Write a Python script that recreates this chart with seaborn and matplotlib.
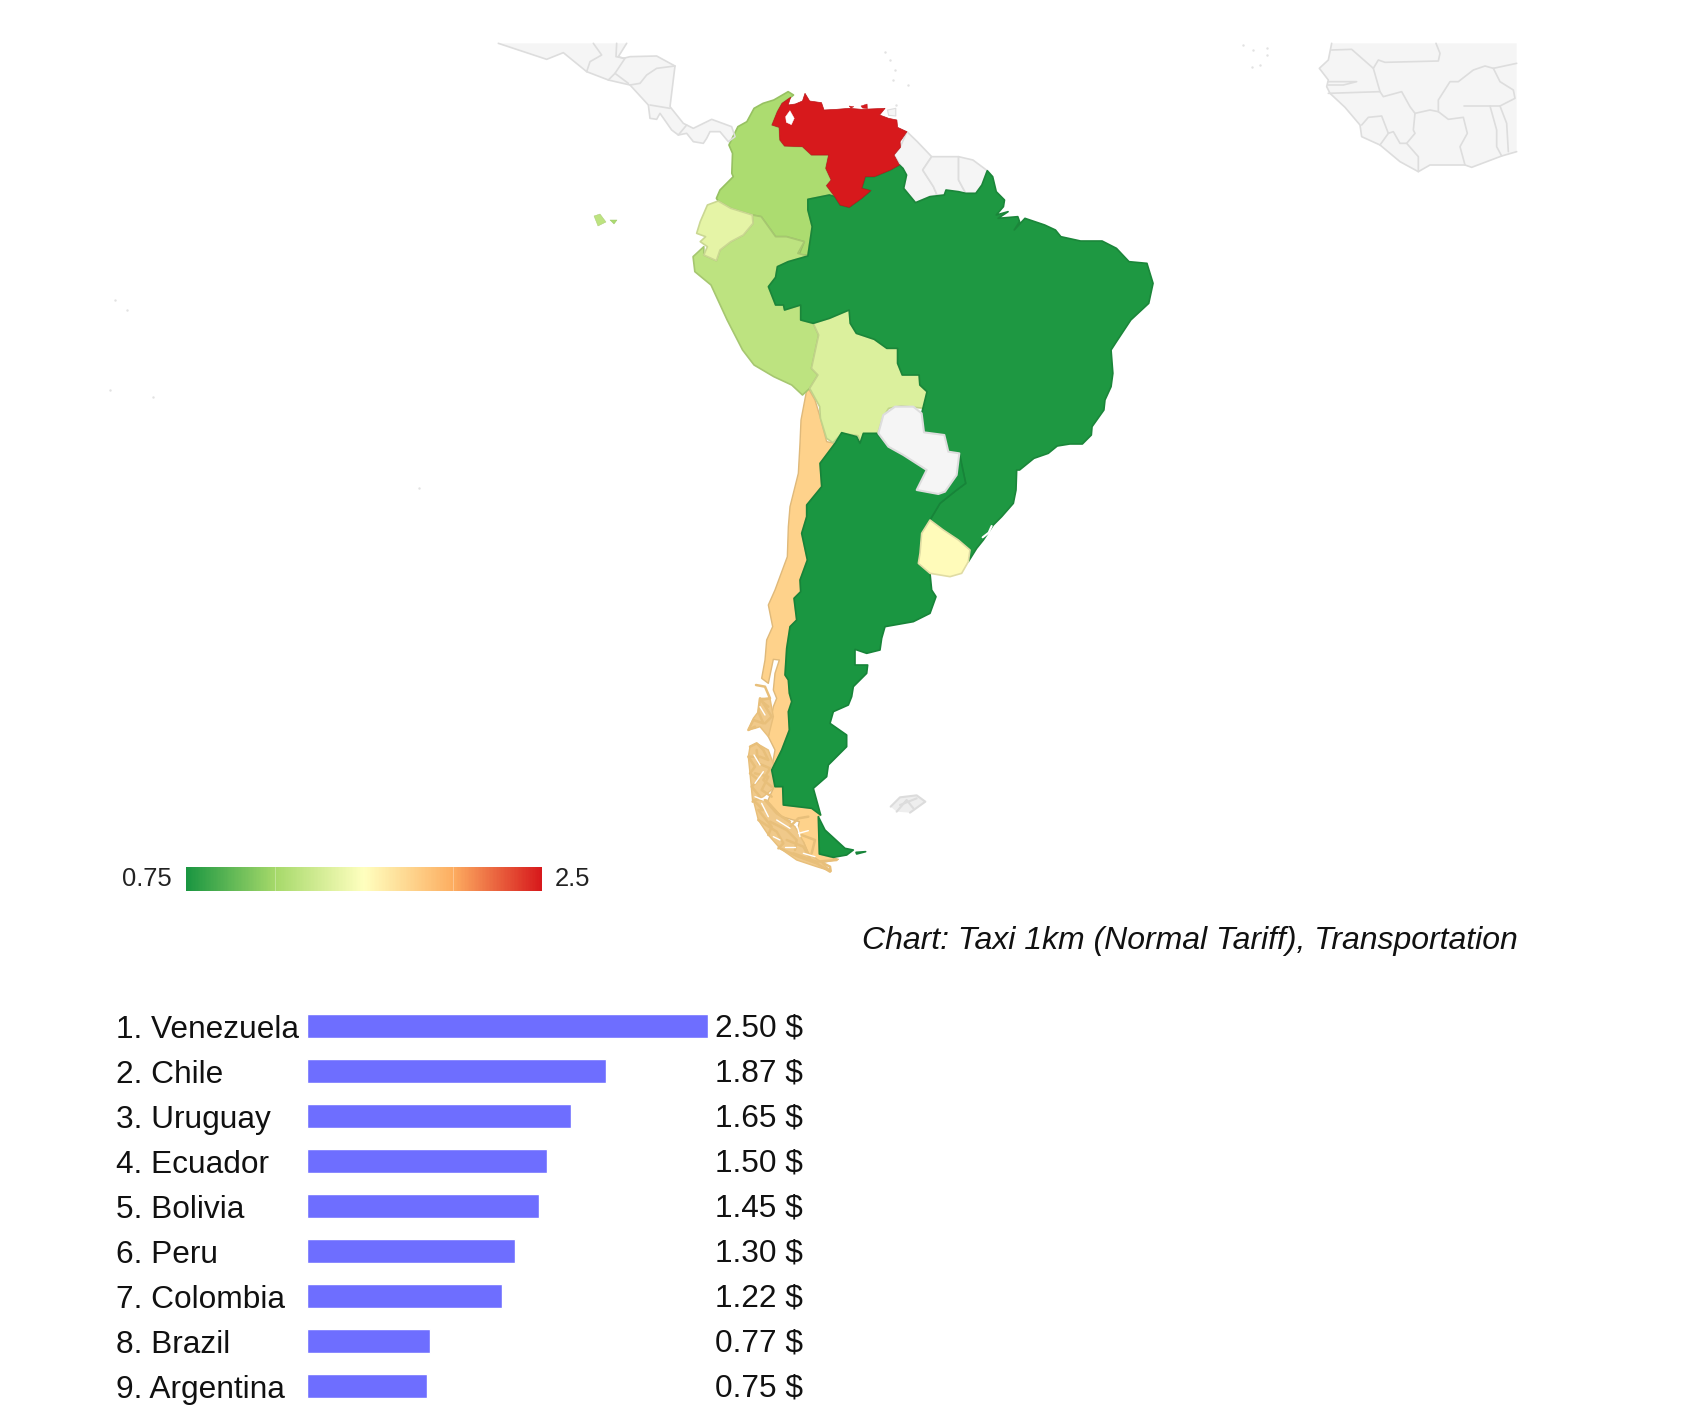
import numpy as np
import pandas as pd
import matplotlib.pyplot as plt
import seaborn as sns
from matplotlib.colors import LinearSegmentedColormap, Normalize, to_rgb

# Data
countries = ['Venezuela', 'Chile', 'Uruguay', 'Ecuador', 'Bolivia', 'Peru', 'Colombia', 'Brazil', 'Argentina']
taxi_prices = [2.50, 1.87, 1.65, 1.50, 1.45, 1.30, 1.22, 0.77, 0.75]
scale_min = 0.75
scale_max = 2.5
scale_colors = ['#1a9641', '#a6d96a', '#ffffbf', '#fdae61', '#d7191c']
chart_title = 'Chart: Taxi 1km (Normal Tariff), Transportation'

# Map outlines, north part (a), south part (b), Patagonia (e)
venezuela_a = [(340,255),(355,215),(368,190),(392,172),(385,195),(405,192),(425,183),(432,160),(445,183),(478,188),(485,210),(520,208),(555,205),(590,208),(655,205),(640,225),(665,235),(688,240),(690,262),(716,275),(697,305),(698,322),(680,345),(695,375),(670,390),(625,410),(600,410),(590,445),(615,452),(590,475),(555,502),(530,495),(515,470),(492,437),(505,420),(490,385),(498,345),(450,345),(425,320),(375,318),(362,300),(360,262)]
margarita_a = [(555,198),(568,200),(560,205)]
coche_a = [(588,198),(605,192),(606,206),(592,204)]
maracaibo_a = [(390,212),(402,235),(394,254),(380,247),(378,230)]
colombia_a = [(385,155),(400,165),(392,172),(368,190),(355,215),(340,255),(360,262),(362,300),(375,318),(425,320),(450,345),(498,345),(490,385),(505,420),(492,437),(515,470),(500,465),(440,478),(440,510),(452,560),(440,645),(415,645),(430,605),(380,590),(350,590),(310,530),(285,525),(225,505),(190,483),(185,475),(195,450),(232,410),(228,400),(230,340),(220,315),(245,260),(270,245),(290,205),(315,190),(345,180)]
ecuador_a = [(190,483),(225,505),(285,525),(287,550),(260,585),(225,605),(195,630),(185,662),(150,645),(160,620),(140,605),(155,590),(130,580),(140,545),(160,495)]
peru_a = [(285,525),(310,530),(350,590),(380,590),(430,605),(412,640),(440,648),(385,665),(355,680),(350,712),(330,740),(350,795),(372,795),(375,810),(420,795),(420,840),(455,850),(470,885),(455,960),(450,985),(468,1005),(445,1045),(425,1065),(395,1035),(345,1010),(290,975),(258,930),(215,840),(170,735),(125,695),(120,650),(150,620),(150,645),(185,662),(195,630),(225,605),(260,585),(287,550)]
bolivia_a = [(455,850),(500,835),(555,810),(558,850),(575,880),(625,898),(660,925),(690,925),(690,970),(703,1005),(750,1005),(752,1035),(772,1055),(765,1105),(700,1098),(665,1105),(648,1135),(635,1180),(605,1185),(590,1212),(580,1187),(535,1180),(510,1208),(492,1195),(475,1135),(473,1100),(445,1045),(468,1005),(450,985),(455,960),(470,885)]
brazil_north_a = [(440,510),(440,478),(500,465),(515,470),(530,495),(555,502),(590,475),(615,452),(590,445),(600,410),(625,410),(670,390),(695,375),(705,385),(715,405),(707,445),(740,488),(780,470),(820,465),(825,450),(860,455),(880,460),(908,460),(925,435),(940,392),(955,410),(965,455),(988,480),(985,500),(965,525),(998,515),(970,535),(1025,530),(1030,545),(1015,570),(1045,535),(1100,555),(1130,570),(1145,590),(1200,603),(1260,603),(1300,625),(1335,665),(1385,670),(1402,730),(1390,790),(1340,840),(1300,905),(1285,930),(1290,1000),(1285,1040),(1268,1080),(1265,1110),(1232,1160),(1230,1185),(1205,1212),(1170,1212),(1135,1218),(1110,1240),(1070,1255),(1030,1290)]
brazil_south_b = [(950,210),(948,270),(940,310),(905,350),(880,375),(850,420),(830,445),(805,485),(810,450),(775,420),(730,390),(690,360),(720,310),(770,270),(797,250),(778,160),(745,155),(733,105),(672,97),(665,40)]
brazil_west_a = [(772,1055),(752,1035),(750,1005),(703,1005),(690,970),(690,925),(660,925),(625,898),(575,880),(558,850),(555,810),(500,835),(455,850),(420,840),(420,795),(375,810),(372,795),(350,795),(330,740),(350,712),(355,680),(385,665),(440,648),(452,560)]
lagoon_b = [(875,378),(866,398),(848,412)]
guyana_a = [(716,275),(745,305),(785,350),(760,390),(790,440),(800,465),(780,470),(740,488),(707,445),(715,405),(680,345),(697,322)]
suriname_a = [(785,350),(860,350),(860,420),(870,440),(880,460),(820,465),(800,465),(790,440),(760,390)]
french_guiana_a = [(860,350),(900,360),(940,392),(925,435),(908,460),(880,460),(870,440),(860,420)]
trinidad_a = [(662,210),(685,205),(685,228),(665,226)]
paraguay_b = [(535,100),(550,45),(585,20),(640,20),(665,40),(672,97),(733,105),(745,155),(778,160),(770,225),(735,275),(715,282),(650,270),(680,210),(610,165),(565,140)]
uruguay_b = [(690,360),(730,390),(775,420),(810,450),(805,485),(785,520),(750,530),(690,520),(655,490),(660,460),(665,400)]
argentina_b = [(405,130),(425,98),(470,110),(480,130),(490,100),(530,100),(565,140),(610,165),(680,210),(650,270),(715,282),(735,275),(770,225),(778,160),(797,250),(770,270),(720,310),(690,360),(665,400),(660,460),(655,490),(690,520),(695,570),(708,590),(690,640),(640,665),(555,680),(545,715),(540,750),(500,760),(465,748),(465,795),(503,795),(500,820),(460,860),(455,890),(445,915),(400,935),(390,970),(440,1005),(440,1040),(385,1095),(380,1130),(340,1165),(362,1245),(335,1225),(250,1215),(248,1160),(225,1160),(215,1110),(245,1050),(268,990),(265,935),(275,905),(268,880),(265,840),(255,825),(260,745),(270,680),(290,660),(282,595),(302,575),(300,540),(322,480),(305,400),(320,350),(320,315),(365,260),(360,190)]
fuego_b = [(355,1250),(375,1290),(435,1345),(460,1350),(440,1365),(400,1372),(358,1362)]
staten_b = [(468,1357),(497,1355),(470,1362)]
chile_east_b = [(322,-40),(345,0),(360,50),(380,125),(405,130),(360,190),(365,260),(320,315),(320,350),(305,400),(322,480),(300,540),(302,575),(282,595),(290,660),(270,680),(260,745),(255,825),(265,840),(268,880),(282,905),(265,935),(268,990),(245,1050),(215,1110),(225,1160),(248,1160),(250,1215),(335,1225),(362,1245),(355,1250),(358,1362),(415,1378)]
chile_south_e = [(245,668),(205,640),(190,605),(165,600),(178,545),(125,530),(80,490),(100,445),(95,385),(105,330),(85,290),(95,225),(100,200),(110,175),(100,150),(105,100),(118,60),(100,58),(85,130),(65,115),(75,60),(80,0)]
chile_west_b = [(218,680),(205,615),(225,570),(262,470),(265,380),(270,320),(295,220),(300,130),(303,60)]
island_blobs_e = [[(60,175),(90,175),(100,230),(85,290),(60,260),(45,265),(25,270),(40,235),(55,215)],[(30,320),(50,310),(85,330),(105,385),(100,445),(70,470),(38,485),(30,400),(25,350)],[(40,480),(80,480),(125,530),(165,560),(190,605),(205,640),(245,668),(272,693),(230,680),(170,660),(120,625),(85,585),(55,540)]]
chile_islands_e = [[(48,135),(75,140),(90,175),(60,180),(85,200)],[(60,175),(55,215),(70,250),(40,240),(25,270),(45,260)],[(70,190),(95,230),(75,250)],[(30,320),(50,310),(70,330),(85,360),(60,350),(25,350),(45,380),(30,400),(55,420),(35,440),(60,470),(38,485)],[(50,330),(55,370),(90,385),(70,420),(95,440)],[(45,400),(85,410),(65,450),(95,470)],[(40,480),(70,510),(55,510),(95,560),(85,585)],[(75,480),(110,520),(150,545)],[(55,540),(110,575),(130,610),(115,625)],[(90,545),(140,570),(170,600),(165,630)],[(120,625),(175,650),(230,670),(270,695)],[(140,600),(190,620),(210,655)],[(160,640),(230,665),(290,660)],[(215,640),(225,600),(185,585)],[(150,560),(175,535),(205,530)],[(250,670),(270,680),(272,693)]]
fjord_gaps_e = [[(60,200),(75,225)],[(42,345),(60,375)],[(70,395),(45,430)],[(65,490),(85,530)],[(45,470),(70,480)],[(110,540),(150,565)],[(172,560),(180,590)],[(176,580),(205,572)],[(135,620),(165,620)],[(190,640),(225,650)],[(100,590),(120,600)]]
falklands_b = [(572,1220),(600,1192),(650,1186),(676,1205),(630,1238),(590,1235)]
falklands_lines_b = [[(572,1220),(600,1192),(650,1186),(676,1205),(630,1238)],[(590,1235),(620,1200),(640,1225)],[(600,1215),(650,1195)]]

# Central America and West Africa
central_america = [(25,40),(170,88),(220,68),(290,125),(355,150),(420,165),(475,225),(480,265),(500,268),(510,250),(545,300),(565,315),(590,310),(610,335),(640,340),(650,325),(660,305),(690,305),(715,335),(735,320),(725,290),(665,268),(610,295),(580,280),(540,230),(555,108),(500,78),(420,80),(400,85),(385,80),(410,40)]
central_borders = [[(310,40),(335,75),(300,95),(290,125)],[(380,40),(378,80),(405,85),(375,130),(415,160)],[(375,130),(355,150)],[(555,108),(500,115),(470,135),(450,160),(420,165)],[(480,225),(540,235)],[(590,285),(565,315)]]
africa_coast = [(860,365),(815,378),(725,412),(705,405),(600,405),(565,425),(510,395),(450,345),(395,320),(390,285),(345,232),(300,190),(290,170),(295,150),(268,115),(295,90),(305,40)]
africa_top = [(860,40)]
africa_borders = [[(305,60),(365,58),(430,115),(450,185),(295,190)],[(430,115),(445,90),(465,97),(625,93),(630,70),(618,40)],[(450,185),(460,200),(515,185),(540,230),(555,250),(550,300),(555,310),(530,340),(510,340),(490,305),(475,310),(450,345)],[(395,285),(415,262),(455,258),(475,310)],[(555,250),(600,240),(625,245),(655,268),(700,262),(712,310),(690,350),(705,405)],[(625,245),(625,210),(660,155),(685,155),(730,120),(765,108),(790,115),(860,100)],[(790,115),(810,155),(850,180),(855,205),(810,228),(702,228)],[(780,228),(800,300),(800,350),(815,378)],[(810,228),(830,280),(835,365)],[(530,340),(565,380),(565,425)],[(295,155),(380,155),(340,165),(295,165)]]
cape_verde = [(40,45),(70,60),(110,55),(112,74),(90,105),(65,110)]
# small islands, full picture pixels
caribbean_dots = [(885,52),(890,60),(895,70),(893,80),(908,85),(896,105)]
pacific_dots = [(115,300),(127,310),(110,390),(153,397),(419,488)]
galapagos = [(594,216),(600,214),(606,222),(598,226)]
galapagos_2 = [(610,220),(617,220),(614,224)]

def crop_a(pts):
    return [(650 + x / 2.787, 40 + y / 3) for x, y in pts]

def crop_b(pts):
    return [(700 + x / 3, 400 + y / 3) for x, y in pts]

def crop_c(pts):
    return [(490 + x / 3, 30 + y / 3) for x, y in pts]

def crop_d(pts):
    return [(1230 + x / 3, 30 + y / 3) for x, y in pts]

def crop_e(pts):
    return [(740 + x / 3, 640 + y / 3) for x, y in pts]

sns.set_theme(style='white')
plt.rcParams['font.family'] = ['Liberation Sans', 'DejaVu Sans']

df = pd.DataFrame({'country': countries, 'price': taxi_prices})
df['label'] = [f'{i + 1}. {c}' for i, c in enumerate(df['country'])]
prices = dict(zip(countries, taxi_prices))

cmap = LinearSegmentedColormap.from_list('taxi', scale_colors)
norm = Normalize(scale_min, scale_max)

fig = plt.figure(figsize=(17.05, 14.14), dpi=100, facecolor='white')

# Map
ax_map = fig.add_axes([0, 0, 1, 1])
ax_map.set_xlim(0, 1705)
ax_map.set_ylim(1414, 0)
ax_map.axis('off')

def draw_shape(pts, fill, edge, lw=1.2):
    xs, ys = zip(*pts)
    ax_map.fill(xs, ys, facecolor=fill, edgecolor=edge, linewidth=lw, joinstyle='round')

def draw_lines(lines, color, lw):
    for line in lines:
        xs, ys = zip(*line)
        ax_map.plot(xs, ys, color=color, linewidth=lw, solid_joinstyle='round')

def draw_country(name, pts, lw=1.2):
    fill = cmap(norm(prices[name]))
    edge = tuple(0.88 * c for c in to_rgb(fill))
    draw_shape(pts, fill, edge, lw)

grey_fill = '#f5f5f5'
grey_edge = '#dddddd'
draw_shape(crop_c(central_america), grey_fill, 'none', 0)
draw_lines([crop_c(central_america)] + [crop_c(b) for b in central_borders], grey_edge, 1.2)
draw_shape(crop_d(africa_coast + africa_top), grey_fill, 'none', 0)
draw_lines([crop_d(africa_coast)] + [crop_d(b) for b in africa_borders], grey_edge, 1.2)
for p in crop_d(cape_verde) + caribbean_dots + pacific_dots:
    ax_map.scatter(*p, s=3, color='#e2e2e2', linewidths=0)
draw_shape(crop_a(guyana_a), grey_fill, grey_edge)
draw_shape(crop_a(suriname_a), grey_fill, grey_edge)
draw_shape(crop_a(french_guiana_a), grey_fill, grey_edge)
draw_shape(crop_a(trinidad_a), grey_fill, grey_edge, 0.8)
draw_shape(crop_b(falklands_b), '#eeeeee', 'none', 0)
draw_lines([crop_b(f) for f in falklands_lines_b], '#dcdcdc', 1.5)

draw_country('Chile', crop_b(chile_east_b) + crop_e(chile_south_e) + crop_b(chile_west_b), 1.0)
for blob in island_blobs_e:
    draw_shape(crop_e(blob), '#f0c98a', '#e8bf7a', 1.0)
draw_lines([crop_e(c) for c in chile_islands_e], '#e8bf7a', 1.8)
draw_lines([crop_e(g) for g in fjord_gaps_e], 'white', 1.0)
draw_country('Colombia', crop_a(colombia_a))
draw_country('Peru', crop_a(peru_a))
draw_country('Ecuador', crop_a(ecuador_a))
draw_country('Peru', galapagos, 0.3)
draw_country('Colombia', galapagos_2, 0.3)
draw_country('Bolivia', crop_a(bolivia_a))
draw_country('Brazil', crop_a(brazil_north_a) + crop_b(brazil_south_b) + crop_a(brazil_west_a))
draw_lines([crop_b(lagoon_b)], 'white', 1.5)
draw_country('Argentina', crop_b(argentina_b))
draw_country('Argentina', crop_b(fuego_b))
draw_country('Argentina', crop_b(staten_b))
draw_shape(crop_b(paraguay_b), grey_fill, grey_edge, 1.5)
draw_country('Uruguay', crop_b(uruguay_b))
draw_country('Venezuela', crop_a(venezuela_a), 0.5)
draw_country('Venezuela', crop_a(margarita_a), 0.3)
draw_country('Venezuela', crop_a(coche_a), 0.3)
draw_shape(crop_a(maracaibo_a), 'white', 'white', 0.3)

# Colour scale
ax_scale = fig.add_axes([186 / 1705, 1 - 891 / 1414, 356 / 1705, 24 / 1414])
gradient = np.linspace(scale_min, scale_max, 356).reshape(1, -1)
sns.heatmap(gradient, ax=ax_scale, cmap=cmap, norm=norm, cbar=False, xticklabels=False, yticklabels=False)
for frac in (0.25, 0.75):
    ax_scale.axvline(356 * frac, color='white', linewidth=0.7, alpha=0.3)
fig.text(122 / 1705, 1 - 879 / 1414, '0.75', fontsize=18.4, color='#222222', ha='left', va='center')
fig.text(555 / 1705, 1 - 879 / 1414, '2.5', fontsize=18.4, color='#222222', ha='left', va='center')

fig.text(1518 / 1705, 1 - 941 / 1414, chart_title, fontsize=23, style='italic', color='#111111', ha='right', va='center')

# Ranked bars
ax_bar = fig.add_axes([306.5 / 1705, 1 - 1408.5 / 1414, 401 / 1705, 405 / 1414])
sns.barplot(data=df, x='price', y='label', color='#6e6eff', saturation=1, width=0.55, ax=ax_bar)
ax_bar.set_xlim(0, scale_max)
ax_bar.axis('off')
for i, row in df.iterrows():
    ax_bar.text(-0.475, i + 0.08, row['label'], transform=ax_bar.get_yaxis_transform(), fontsize=22.8, color='#111111', ha='left', va='center')
    ax_bar.text(1.237, i + 0.06, f"{row['price']:.2f} $", transform=ax_bar.get_yaxis_transform(), fontsize=22.8, color='#111111', ha='right', va='center')

fig.savefig('out.png', dpi=100)
